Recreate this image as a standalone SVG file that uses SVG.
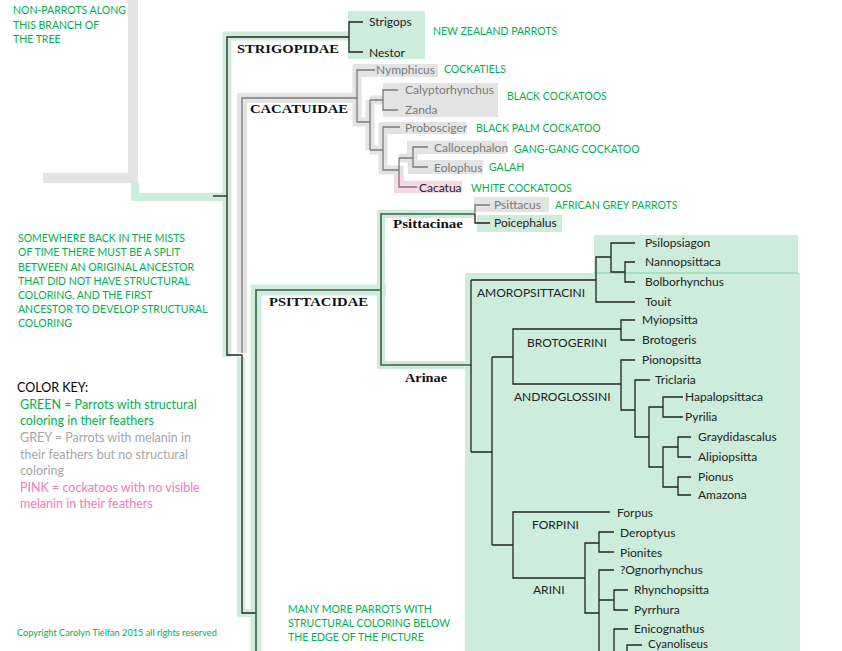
<svg xmlns="http://www.w3.org/2000/svg" width="842" height="651" viewBox="0 0 842 651">
<style>
.ln{fill:none;stroke:#222;stroke-width:1.3}
.lg{fill:none;stroke:#7a7a7a;stroke-width:1.3}
.ld{fill:none;stroke:#3c5e49;stroke-width:1.6}
.gb{fill:none;stroke:#cdecdb;stroke-linejoin:miter}
.yb{fill:none;stroke:#e3e3e3;stroke-linejoin:miter}
.gbox{fill:#cdecdb}
.ybox{fill:#e3e3e3}
.sp{font-family:Lato,"Liberation Sans",sans-serif;font-size:12px;fill:#222}
.spg{fill:#7a7a7a}
.ann{font-family:Lato,"Liberation Sans",sans-serif;font-size:10.5px;fill:#00b050}
.key{font-family:Lato,"Liberation Sans",sans-serif;font-size:12.5px}
.hd{font-family:"Liberation Serif",serif;font-weight:bold;font-size:13px;fill:#111}
</style>
<rect width="842" height="651" fill="#fff"/>

<!-- highlight bands -->
<g id="highlights">
<path class="yb" stroke-width="10" d="M133,0 V178 H43"/>
<path class="gb" stroke-width="8" d="M135,183 V197 H224"/>
<path class="gb" stroke-width="9" d="M348,36 H227 V357"/>
<path class="yb" stroke-width="10" d="M242,353 V98 H357"/>
<path class="yb" stroke-width="9" d="M375,70 H357 V122 H370"/>
<path class="yb" stroke-width="9" d="M370,100 V150 M370,100 H383 M370,150 H383"/>
<path class="yb" stroke-width="9" d="M400,127 H383 V170 H399 V176"/>
<path class="yb" stroke-width="9" d="M399,158 H413 M413,147 V167"/>
<path class="gb" stroke-width="8" d="M241,357 V613 H259"/>
<path class="gb" stroke-width="11" d="M256,651 V290 H386"/>
<path class="gb" stroke-width="8" d="M475,214 H381 V365 H470"/>
<rect class="ybox" x="353" y="64" width="85" height="13"/>
<rect class="ybox" x="383" y="83" width="115" height="34"/>
<rect class="ybox" x="381" y="122" width="86" height="12"/>
<rect class="ybox" x="407" y="141" width="100" height="13"/>
<rect class="ybox" x="408" y="160" width="75" height="14"/>
<rect fill="#f8d6e6" x="394" y="175" width="10" height="18"/>
<rect fill="#f8d6e6" x="394" y="181" width="68" height="12"/>
<rect class="ybox" x="474" y="197" width="75" height="15"/>
<rect class="gbox" x="477" y="215" width="85" height="17"/>
<rect class="gbox" x="348" y="11" width="77" height="48"/>
<rect class="gbox" x="594" y="235" width="204" height="39"/>
<rect class="gbox" x="465" y="273" width="335" height="378"/>
<rect fill="#a9dcc0" x="594" y="272" width="204" height="2"/>
</g>

<!-- connectors -->
<g id="connectors">
<path class="ln" d="M213,196 H227"/>
<path class="ln" d="M349,37 H227 V355 H242 V613 H256"/>
<path class="lg" d="M242,353 V98 H357"/>
<path class="ln" d="M363,22 H349 V52 H363"/>
<path class="lg" d="M375,70 H357 V122 H370"/>
<path class="lg" d="M370,100 V150 M370,100 H383 M370,150 H383"/>
<path class="lg" d="M398,90 H383 V110 H398"/>
<path class="lg" d="M400,127 H383 V170 H399"/>
<path class="lg" d="M399,158 V187 H417 M399,158 H413"/>
<path class="lg" d="M428,147 H413 V167 H428"/>
<path class="ld" d="M256,651 V290 H381"/>
<path class="ld" d="M475,214 H381 V365 H471"/>
<path class="lg" d="M490,205 H475 V214"/>
<path class="ln" d="M475,214 V223 H490"/>
<path class="ln" d="M471,280 V452 M471,280 H596 M471,452 H492"/>
<path class="ln" d="M611,257 H596 V302 H635"/>
<path class="ln" d="M635,243 H611 V272 H625 M635,262 H625 V282 H635"/>
<path class="ln" d="M492,357 V545 M492,357 H513 M492,545 H513"/>
<path class="ln" d="M621,329 H513 V384 H621 M635,320 H621 V340 H635"/>
<path class="ln" d="M635,360 H621 V410 H635 M650,380 H635 V437 H649"/>
<path class="ln" d="M663,407 H649 V467 H663 M683,397 H663 V417 H683"/>
<path class="ln" d="M678,447 H663 V487 H678 M691,437 H678 V457 H691 M691,477 H678 V495 H691"/>
<path class="ln" d="M610,512 H513 V578 H585 M599,543 H585 V613 H599 M614,532 H599 V552 H614"/>
<path class="ln" d="M614,570 H599 V651 M599,600 H614 M628,590 H614 V610 H628 M628,629 H614 V651 M627,651 V645 H642"/>
</g>

<!-- annotations -->
<g id="notes">
<text class="ann" x="13" y="14">NON-PARROTS ALONG</text>
<text class="ann" x="13" y="28.5">THIS BRANCH OF</text>
<text class="ann" x="13" y="43">THE TREE</text>
<text class="ann" x="18" y="242">SOMEWHERE BACK IN THE MISTS</text>
<text class="ann" x="18" y="256">OF TIME THERE MUST BE A SPLIT</text>
<text class="ann" x="18" y="270.5">BETWEEN AN ORIGINAL ANCESTOR</text>
<text class="ann" x="18" y="284.5">THAT DID NOT HAVE STRUCTURAL</text>
<text class="ann" x="18" y="298.5">COLORING, AND THE FIRST</text>
<text class="ann" x="18" y="313">ANCESTOR TO DEVELOP STRUCTURAL</text>
<text class="ann" x="18" y="327">COLORING</text>
<text class="ann" x="288" y="613">MANY MORE PARROTS WITH</text>
<text class="ann" x="288" y="627">STRUCTURAL COLORING BELOW</text>
<text class="ann" x="288" y="641">THE EDGE OF THE PICTURE</text>
<text class="ann" x="17" y="636" style="font-size:9.2px">Copyright Carolyn Tielfan 2015 all rights reserved</text>
<text class="ann" x="433" y="35">NEW ZEALAND PARROTS</text>
<text class="ann" x="444" y="73">COCKATIELS</text>
<text class="ann" x="507" y="100">BLACK COCKATOOS</text>
<text class="ann" x="476" y="132">BLACK PALM COCKATOO</text>
<text class="ann" x="514" y="153">GANG-GANG COCKATOO</text>
<text class="ann" x="489" y="171">GALAH</text>
<text class="ann" x="471" y="192">WHITE COCKATOOS</text>
<text class="ann" x="555" y="209">AFRICAN GREY PARROTS</text>
</g>

<g id="color-key" class="key">
<text x="17" y="392" fill="#000">COLOR KEY:</text>
<text x="20" y="408.5" fill="#00b050">GREEN = Parrots with structural</text>
<text x="20" y="425" fill="#00b050">coloring in their feathers</text>
<text x="20" y="442" fill="#a6a6a6">GREY = Parrots with melanin in</text>
<text x="20" y="458.5" fill="#a6a6a6">their feathers but no structural</text>
<text x="20" y="475" fill="#a6a6a6">coloring</text>
<text x="20" y="492" fill="#f27ab8">PINK = cockatoos with no visible</text>
<text x="20" y="508" fill="#f27ab8">melanin in their feathers</text>
</g>

<!-- headings -->
<g id="strigopidae"><text class="hd" x="237" y="53" textLength="102" lengthAdjust="spacingAndGlyphs">STRIGOPIDAE</text></g>
<g id="cacatuidae"><text class="hd" x="250" y="113" textLength="98" lengthAdjust="spacingAndGlyphs">CACATUIDAE</text></g>
<g id="psittacidae"><text class="hd" x="269" y="306" textLength="99" lengthAdjust="spacingAndGlyphs">PSITTACIDAE</text></g>
<g id="psittacinae"><text class="hd" x="393" y="228" textLength="70" lengthAdjust="spacingAndGlyphs">Psittacinae</text></g>
<g id="arinae"><text class="hd" x="405" y="382" textLength="42" lengthAdjust="spacingAndGlyphs">Arinae</text></g>

<!-- taxa -->
<g id="strigops"><text class="sp" x="369" y="26">Strigops</text></g>
<g id="nestor"><text class="sp" x="369" y="56.5">Nestor</text></g>
<g id="nymphicus"><text class="sp spg" x="376" y="74">Nymphicus</text></g>
<g id="calyptorhynchus"><text class="sp spg" x="405" y="94">Calyptorhynchus</text></g>
<g id="zanda"><text class="sp spg" x="405" y="114">Zanda</text></g>
<g id="probosciger"><text class="sp spg" x="405" y="132">Probosciger</text></g>
<g id="callocephalon"><text class="sp spg" x="434" y="152">Callocephalon</text></g>
<g id="eolophus"><text class="sp spg" x="434" y="172">Eolophus</text></g>
<g id="cacatua"><text class="sp" x="419" y="192" fill="#333">Cacatua</text></g>
<g id="psittacus"><text class="sp spg" x="494" y="209">Psittacus</text></g>
<g id="poicephalus"><text class="sp" x="494" y="227">Poicephalus</text></g>

<g id="amoropsittacini"><text class="sp" x="477" y="297">AMOROPSITTACINI</text></g>
<g id="brotogerini"><text class="sp" x="527" y="347">BROTOGERINI</text></g>
<g id="androglossini"><text class="sp" x="514" y="401">ANDROGLOSSINI</text></g>
<g id="forpini"><text class="sp" x="532" y="529">FORPINI</text></g>
<g id="arini"><text class="sp" x="533" y="594">ARINI</text></g>

<g id="psilopsiagon"><text class="sp" x="645" y="247">Psilopsiagon</text></g>
<g id="nannopsittaca"><text class="sp" x="645" y="266">Nannopsittaca</text></g>
<g id="bolborhynchus"><text class="sp" x="645" y="286">Bolborhynchus</text></g>
<g id="touit"><text class="sp" x="645" y="306">Touit</text></g>
<g id="myiopsitta"><text class="sp" x="642" y="324">Myiopsitta</text></g>
<g id="brotogeris"><text class="sp" x="642" y="344">Brotogeris</text></g>
<g id="pionopsitta"><text class="sp" x="642" y="364">Pionopsitta</text></g>
<g id="triclaria"><text class="sp" x="655" y="384">Triclaria</text></g>
<g id="hapalopsittaca"><text class="sp" x="685" y="401">Hapalopsittaca</text></g>
<g id="pyrilia"><text class="sp" x="685" y="421">Pyrilia</text></g>
<g id="graydidascalus"><text class="sp" x="698" y="441">Graydidascalus</text></g>
<g id="alipiopsitta"><text class="sp" x="698" y="461">Alipiopsitta</text></g>
<g id="pionus"><text class="sp" x="698" y="481">Pionus</text></g>
<g id="amazona"><text class="sp" x="698" y="499">Amazona</text></g>
<g id="forpus"><text class="sp" x="617" y="517">Forpus</text></g>
<g id="deroptyus"><text class="sp" x="620" y="537">Deroptyus</text></g>
<g id="pionites"><text class="sp" x="620" y="557">Pionites</text></g>
<g id="ognorhynchus"><text class="sp" x="620" y="574">?Ognorhynchus</text></g>
<g id="rhynchopsitta"><text class="sp" x="634" y="594">Rhynchopsitta</text></g>
<g id="pyrrhura"><text class="sp" x="634" y="614">Pyrrhura</text></g>
<g id="enicognathus"><text class="sp" x="634" y="633">Enicognathus</text></g>
<g id="cyanoliseus"><text class="sp" x="648" y="648" style="font-size:11.5px">Cyanoliseus</text></g>
</svg>
